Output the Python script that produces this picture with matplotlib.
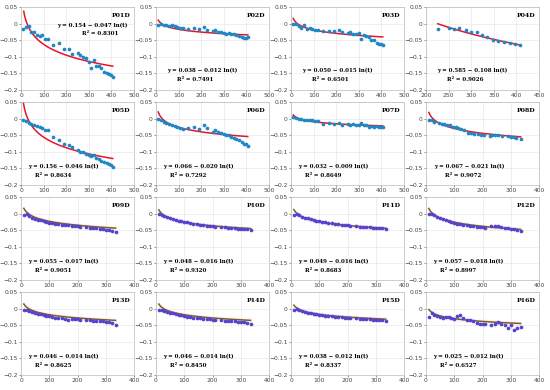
import numpy as np
import matplotlib.pyplot as plt

names = ["P01D", "P02D", "P03D", "P04D", "P05D", "P06D", "P07D", "P08D",
         "P09D", "P10D", "P11D", "P12D", "P13D", "P14D", "P15D", "P16D"]
coef_a = [0.154, 0.038, 0.050, 0.585, 0.156, 0.066, 0.032, 0.067,
          0.055, 0.048, 0.049, 0.057, 0.046, 0.046, 0.038, 0.025]
coef_b = [0.047, 0.012, 0.015, 0.108, 0.046, 0.020, 0.009, 0.021,
          0.017, 0.016, 0.016, 0.018, 0.014, 0.014, 0.012, 0.012]
r2 = ["0.8301", "0.7491", "0.6501", "0.9026", "0.8634", "0.7292", "0.8649", "0.9072",
      "0.9051", "0.9320", "0.8683", "0.8997", "0.8625", "0.8450", "0.8337", "0.6527"]

t_long = [10, 22, 34, 46, 58, 70, 82, 94, 106, 118, 142, 166, 190, 214, 226,
          250, 262, 274, 288, 300, 310, 322, 334, 346, 356, 368, 380, 390, 398, 406]
t_short = [10, 20, 30, 40, 50, 60, 70, 80, 90, 100, 110, 120, 130, 145, 155,
           165, 180, 190, 200, 210, 230, 245, 255, 265, 280, 290, 300, 310, 322, 335]
t_p04 = [226, 250, 262, 274, 288, 300, 312, 324, 336, 348, 360, 372, 386, 398, 408]
t_p08 = [10, 20, 30, 45, 55, 65, 75, 85, 95, 105, 115, 125, 135, 150, 160,
         170, 185, 195, 205, 225, 235, 245, 255, 270, 290, 300, 310, 320, 335]

y01 = [-0.017, -0.009, -0.008, -0.025, -0.025, -0.035, -0.037, -0.035, -0.047, -0.045,
       -0.065, -0.058, -0.077, -0.078, -0.092, -0.090, -0.095, -0.100, -0.105, -0.115,
       -0.133, -0.110, -0.127, -0.128, -0.133, -0.145, -0.150, -0.152, -0.155, -0.160]
y02 = [-0.003, 0.000, -0.003, -0.005, -0.007, -0.003, -0.008, -0.010, -0.012, -0.012,
       -0.015, -0.012, -0.015, -0.010, -0.018, -0.022, -0.020, -0.025, -0.025, -0.028,
       -0.032, -0.027, -0.030, -0.030, -0.033, -0.038, -0.040, -0.042, -0.042, -0.041]
y03 = [0.000, 0.000, -0.008, -0.012, -0.005, -0.015, -0.013, -0.015, -0.020, -0.020,
       -0.022, -0.022, -0.022, -0.020, -0.025, -0.028, -0.025, -0.030, -0.030, -0.028,
       -0.045, -0.033, -0.038, -0.040, -0.050, -0.050, -0.058, -0.060, -0.062, -0.065]
y04 = [-0.015, -0.012, -0.015, -0.012, -0.018, -0.025, -0.025, -0.035, -0.040, -0.048,
       -0.052, -0.055, -0.058, -0.062, -0.063]
y05 = [-0.005, -0.008, -0.013, -0.017, -0.020, -0.022, -0.025, -0.027, -0.033, -0.035,
       -0.055, -0.063, -0.077, -0.080, -0.085, -0.095, -0.100, -0.102, -0.108, -0.110,
       -0.112, -0.110, -0.120, -0.122, -0.128, -0.130, -0.133, -0.137, -0.140, -0.145]
y06 = [0.000, -0.005, -0.010, -0.013, -0.016, -0.019, -0.021, -0.024, -0.027, -0.030,
       -0.028, -0.025, -0.030, -0.018, -0.028, -0.040, -0.035, -0.040, -0.042, -0.045,
       -0.050, -0.050, -0.055, -0.058, -0.062, -0.065, -0.070, -0.075, -0.078, -0.082]
y07 = [0.005, 0.003, 0.000, -0.002, -0.003, -0.005, -0.003, -0.005, -0.008, -0.008,
       -0.015, -0.012, -0.015, -0.012, -0.018, -0.015, -0.018, -0.015, -0.020, -0.018,
       -0.012, -0.018, -0.020, -0.025, -0.022, -0.025, -0.022, -0.025, -0.025, -0.025]
y08 = [-0.003, -0.005, -0.010, -0.012, -0.015, -0.015, -0.018, -0.020, -0.025, -0.025,
       -0.028, -0.030, -0.035, -0.042, -0.043, -0.045, -0.047, -0.048, -0.048, -0.052,
       -0.050, -0.050, -0.050, -0.052, -0.053, -0.055, -0.055, -0.058, -0.060]
y09 = [-0.003, -0.002, -0.008, -0.012, -0.015, -0.018, -0.020, -0.022, -0.025, -0.027,
       -0.028, -0.030, -0.032, -0.033, -0.035, -0.035, -0.037, -0.038, -0.038, -0.040,
       -0.040, -0.042, -0.042, -0.043, -0.045, -0.047, -0.048, -0.050, -0.052, -0.055]
y10 = [-0.002, -0.003, -0.006, -0.010, -0.013, -0.016, -0.018, -0.021, -0.023, -0.025,
       -0.026, -0.028, -0.030, -0.031, -0.033, -0.034, -0.036, -0.037, -0.037, -0.039,
       -0.040, -0.041, -0.042, -0.042, -0.044, -0.045, -0.045, -0.046, -0.047, -0.050]
y11 = [-0.003, -0.002, -0.005, -0.009, -0.012, -0.014, -0.017, -0.019, -0.021, -0.023,
       -0.024, -0.026, -0.028, -0.029, -0.030, -0.032, -0.034, -0.035, -0.035, -0.036,
       -0.038, -0.039, -0.040, -0.040, -0.041, -0.042, -0.043, -0.043, -0.044, -0.046]
y12 = [0.000, 0.000, -0.005, -0.010, -0.013, -0.017, -0.020, -0.022, -0.025, -0.027,
       -0.030, -0.032, -0.035, -0.035, -0.037, -0.038, -0.040, -0.040, -0.040, -0.042,
       -0.038, -0.037, -0.038, -0.040, -0.042, -0.043, -0.045, -0.045, -0.048, -0.052]
y13 = [-0.005, -0.003, -0.007, -0.010, -0.012, -0.015, -0.017, -0.020, -0.022, -0.022,
       -0.025, -0.027, -0.028, -0.028, -0.030, -0.033, -0.030, -0.030, -0.032, -0.035,
       -0.035, -0.033, -0.038, -0.037, -0.037, -0.038, -0.040, -0.040, -0.042, -0.048]
y14 = [-0.004, -0.003, -0.006, -0.009, -0.012, -0.014, -0.016, -0.019, -0.020, -0.022,
       -0.024, -0.025, -0.027, -0.028, -0.029, -0.030, -0.031, -0.032, -0.033, -0.034,
       -0.035, -0.036, -0.036, -0.037, -0.038, -0.039, -0.040, -0.041, -0.043, -0.046]
y15 = [-0.003, -0.002, -0.005, -0.008, -0.010, -0.012, -0.014, -0.016, -0.017, -0.019,
       -0.020, -0.021, -0.022, -0.023, -0.024, -0.025, -0.026, -0.027, -0.027, -0.028,
       -0.029, -0.030, -0.031, -0.031, -0.032, -0.033, -0.033, -0.034, -0.035, -0.037]
y16 = [-0.025, -0.012, -0.018, -0.022, -0.025, -0.028, -0.025, -0.025, -0.028, -0.032,
       -0.022, -0.020, -0.027, -0.035, -0.035, -0.038, -0.043, -0.045, -0.045, -0.047,
       -0.050, -0.045, -0.040, -0.047, -0.050, -0.058, -0.050, -0.065, -0.058, -0.055]

t_sets = [t_long, t_long, t_long, t_p04, t_long, t_long, t_long, t_p08] + [t_short] * 8
y_sets = [y01, y02, y03, y04, y05, y06, y07, y08,
          y09, y10, y11, y12, y13, y14, y15, y16]

# text anchor spots (axes fraction): equation x, y, R2 x, y
eq_pos = [(0.94, 0.78, 0.86, 0.68)] + [(0.10, 0.24, 0.19, 0.13)] * 3 \
    + [(0.06, 0.23, 0.12, 0.12)] * 3 + [(0.07, 0.23, 0.17, 0.12)] \
    + [(0.06, 0.22, 0.12, 0.12)] * 8

fig = plt.figure(figsize=(5.5, 3.9), dpi=100)
W, H = 550, 390
lefts = [21, 156, 291, 426]
tops = [7, 102, 197, 292]
aw, ah = 113, 83

for i in range(16):
    r, c = divmod(i, 4)
    ax = fig.add_axes([lefts[c] / W, 1 - (tops[r] + ah) / H, aw / W, ah / H])
    t = np.array(t_sets[i], dtype=float)
    y = np.array(y_sets[i])
    tt = np.linspace(t[0] if i != 0 else 12, t[-1], 200)
    fit = coef_a[i] - coef_b[i] * np.log(tt)
    if r < 2:
        pt_col, ln_col = "#1f88c2", "#e8132b"
    else:
        pt_col, ln_col = "#5443d0", "#7a6020"
        ax.fill_between(tt, fit - 0.007, fit + 0.007, color="#ffd0dc", alpha=0.35, lw=0)
    ax.plot(tt, fit, color=ln_col, lw=1.1, zorder=2)
    ax.scatter(t, y, s=7, color=pt_col, zorder=3, lw=0)

    if i == 3:
        ax.set_xlim(200, 450)
        ax.set_xticks(np.arange(200, 451, 50))
    elif i < 7:
        ax.set_xlim(0, 500)
        ax.set_xticks(np.arange(0, 501, 100))
    else:
        ax.set_xlim(0, 400)
        ax.set_xticks(np.arange(0, 401, 100))
    ax.set_ylim(-0.2, 0.05)
    ax.set_yticks([-0.2, -0.15, -0.1, -0.05, 0, 0.05])
    ax.set_yticklabels(["\u22120.2", "\u22120.15", "\u22120.1", "\u22120.05", "0", "0.05"])
    ax.tick_params(labelsize=4.3, length=1.5, width=0.4, colors="#444444", pad=1)
    ax.grid(True, color="#e3e3e3", lw=0.4)
    ax.set_axisbelow(True)
    for s in ax.spines.values():
        s.set_color("#bbbbbb")
        s.set_linewidth(0.5)

    ax.text(0.97, 0.93, names[i], transform=ax.transAxes, ha="right", va="top",
            fontsize=4.5, fontweight="bold", family="DejaVu Serif")
    eq = "y = %.3f \u2212 %.3f ln(t)" % (coef_a[i], coef_b[i])
    rr = "R\u00b2 = " + r2[i]
    ex, ey, rx, ry = eq_pos[i]
    ha = "right" if i == 0 else "left"
    ax.text(ex, ey, eq, transform=ax.transAxes, ha=ha, va="center",
            fontsize=4.0, fontweight="bold", family="DejaVu Serif")
    ax.text(rx, ry, rr, transform=ax.transAxes, ha=ha, va="center",
            fontsize=4.0, fontweight="bold", family="DejaVu Serif")

fig.savefig("out.png", dpi=100)
